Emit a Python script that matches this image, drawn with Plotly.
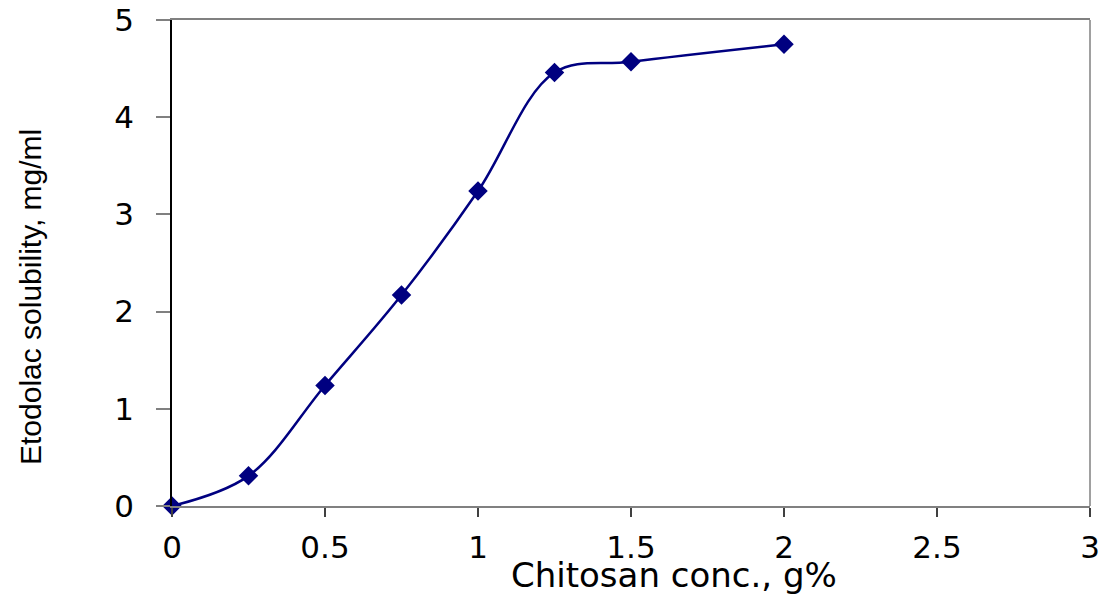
import plotly.graph_objects as go

conc = [0, 0.25, 0.5, 0.75, 1.0, 1.25, 1.5, 2.0]
solubility = [0.0, 0.31, 1.24, 2.17, 3.24, 4.46, 4.57, 4.75]

x_ticks = [0, 0.5, 1, 1.5, 2, 2.5, 3]
x_tick_labels = ["0", "0.5", "1", "1.5", "2", "2.5", "3"]
y_ticks = [0, 1, 2, 3, 4, 5]
y_tick_labels = ["0", "1", "2", "3", "4", "5"]

x_title = "Chitosan conc., g%"
y_title = "Etodolac solubility, mg/ml"

navy = "#000080"

fig = go.Figure()
fig.add_trace(go.Scatter(
    x=conc, y=solubility, mode="lines+markers",
    line=dict(color=navy, width=2.5, shape="spline", smoothing=1.0),
    marker=dict(symbol="diamond", size=15, color=navy),
    cliponaxis=False, showlegend=False,
))

tick_font = dict(family="DejaVu Sans, Liberation Sans, Arial, sans-serif", size=31, color="black")

fig.update_layout(
    width=1110, height=594,
    margin=dict(l=164, r=28, t=12, b=96),
    paper_bgcolor="white", plot_bgcolor="white",
    xaxis=dict(
        range=[0, 3], tickvals=x_ticks, ticktext=x_tick_labels,
        showgrid=False, zeroline=False, automargin=False,
        showline=True, linecolor="#808080", linewidth=1.5, mirror=True,
        ticks="outside", ticklen=9, tickcolor="#404040", tickwidth=1.5,
        tickfont=tick_font, ticklabelstandoff=4, ticklabeloverflow="allow",
    ),
    yaxis=dict(
        range=[0, 5], tickvals=y_ticks, ticktext=y_tick_labels,
        showgrid=False, zeroline=False, automargin=False,
        showline=True, linecolor="black", linewidth=1.5, mirror=False,
        ticks="outside", ticklen=14, tickcolor="#808080", tickwidth=1.5,
        tickfont=tick_font, ticklabelstandoff=16, ticklabeloverflow="allow",
    ),
    shapes=[dict(type="line", xref="x domain", yref="y domain",
                 x0=1, x1=1, y0=0, y1=1,
                 line=dict(color="#808080", width=1.5))],
    annotations=[
        dict(text=x_title, xref="paper", yref="paper", x=0.5468, y=-0.1420,
             xanchor="center", yanchor="middle", showarrow=False,
             font=dict(family="DejaVu Sans, Liberation Sans, Arial, sans-serif", size=34, color="black")),
        dict(text=y_title, xref="paper", yref="paper", x=-0.1547, y=0.430,
             xanchor="center", yanchor="middle", showarrow=False, textangle=-90,
             font=dict(family="Liberation Sans, Arial, sans-serif", size=30, color="black")),
    ],
)

fig.write_html("out.html")
